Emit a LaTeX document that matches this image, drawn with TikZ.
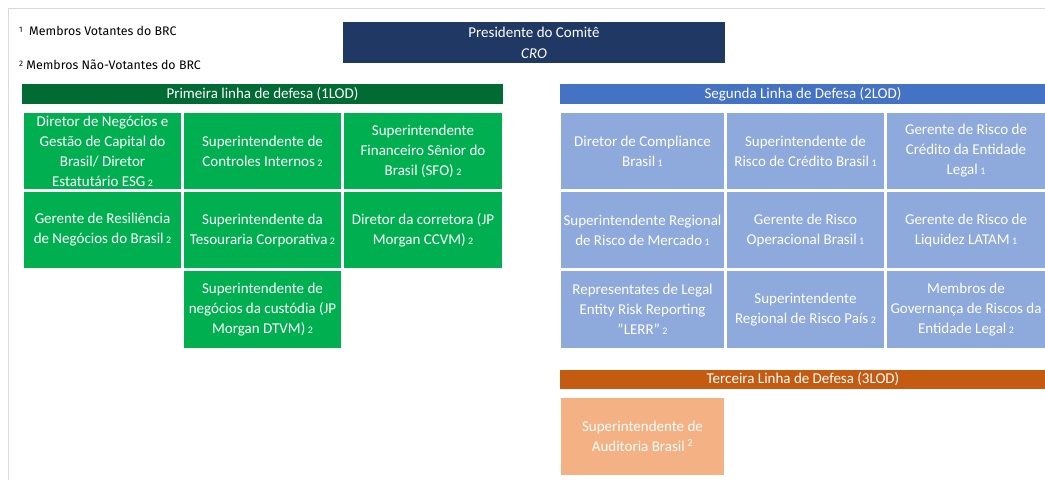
\documentclass[tikz,border=0pt]{standalone}
\usepackage{fontspec}
\setmainfont{Carlito}
\newfontfamily\footfont{Fira Sans}
\definecolor{navy}{HTML}{203864}
\definecolor{dgreen}{HTML}{006B33}
\definecolor{lgreen}{HTML}{00B050}
\definecolor{dblue}{HTML}{4472C4}
\definecolor{lblue}{HTML}{8EA9DB}
\definecolor{dorange}{HTML}{C55A11}
\definecolor{lorange}{HTML}{F4B183}
\definecolor{frame}{HTML}{D9D9D9}
\newcommand{\smnum}[1]{\,{\fontsize{10}{10}\selectfont #1}}
\begin{document}
\begin{tikzpicture}[x=1pt,y=-1pt,
  cell/.style={inner sep=0pt,minimum height=76pt,align=center,text=white,
    font=\fontsize{15}{20}\selectfont},
  gcell/.style={cell,fill=lgreen,minimum width=157pt},
  bcell/.style={cell,fill=lblue,minimum width=157pt},
  ocell/.style={cell,fill=lorange,minimum width=163pt,minimum height=77pt},
  bar/.style={inner sep=0pt,minimum height=20pt,text=white,font=\fontsize{15}{16}\selectfont},
  foot/.style={inner sep=0pt,anchor=west,font=\footfont\fontsize{12.4}{14}\selectfont}]
\useasboundingbox (0,0) rectangle (1045,480);
\fill[white] (0,0) rectangle (1045,480);
\draw[frame,line width=1pt] (8,480) -- (8,8) -- (1045,8);
% footnotes
\node[foot] (f1) at (19,31) {{\fontsize{8}{8}\selectfont\raisebox{3pt}{1}}\ \ Membros Votantes do BRC};
\node[foot] (f2) at (19,65) {{\fontsize{8}{8}\selectfont\raisebox{3pt}{2}} Membros Não-Votantes do BRC};
% president
\node[fill=navy,minimum width=382pt,minimum height=41pt,inner sep=0pt,text=white,align=center,
  font=\fontsize{15}{21}\selectfont] (pres) at (534,42.5) {Presidente do Comitê\\\textit{CRO}};
% 1LOD
\node[bar,fill=dgreen,minimum width=481pt] (h1) at (262.5,94) {Primeira linha de defesa (1LOD)};
\node[gcell] (g11) at (102.5,151) {Diretor de Negócios e\\Gestão de Capital do\\Brasil/ Diretor\\Estatutário ESG\smnum{2}};
\node[gcell] (g12) at (262.5,151) {Superintendente de\\Controles Internos\smnum{2}};
\node[gcell,minimum width=158pt] (g13) at (423,151) {Superintendente\\Financeiro Sênior do\\Brasil (SFO)\smnum{2}};
\node[gcell] (g21) at (102.5,230) {Gerente de Resiliência\\de Negócios do Brasil\smnum{2}};
\node[gcell] (g22) at (262.5,230) {Superintendente da\\Tesouraria Corporativa\smnum{2}};
\node[gcell,minimum width=158pt] (g23) at (423,230) {Diretor da corretora (JP\\Morgan CCVM)\smnum{2}};
\node[gcell,minimum height=77pt] (g32) at (262.5,309.5) {Superintendente de\\negócios da custódia (JP\\Morgan DTVM)\smnum{2}};
% 2LOD
\node[bar,fill=dblue,minimum width=486pt] (h2) at (803,94) {Segunda Linha de Defesa (2LOD)};
\node[bcell,minimum width=163pt] (b11) at (642.5,151) {Diretor de Compliance\\Brasil\smnum{1}};
\node[bcell] (b12) at (805.5,151) {Superintendente de\\Risco de Crédito Brasil\smnum{1}};
\node[bcell,minimum width=158pt] (b13) at (966,151) {Gerente de Risco de\\Crédito da Entidade\\Legal\smnum{1}};
\node[bcell,minimum width=163pt] (b21) at (642.5,230) {Superintendente Regional\\de Risco de Mercado\smnum{1}};
\node[bcell] (b22) at (805.5,230) {Gerente de Risco\\Operacional Brasil\smnum{1}};
\node[bcell,minimum width=158pt] (b23) at (966,230) {Gerente de Risco de\\Liquidez LATAM\smnum{1}};
\node[bcell,minimum width=163pt,minimum height=77pt] (b31) at (642.5,309.5) {Representates de Legal\\Entity Risk Reporting\\"LERR"\smnum{2}};
\node[bcell,minimum height=77pt] (b32) at (805.5,309.5) {Superintendente\\Regional de Risco País\smnum{2}};
\node[bcell,minimum width=158pt,minimum height=77pt] (b33) at (966,309.5) {Membros de\\Governança de Riscos da\\Entidade Legal\smnum{2}};
% 3LOD
\node[bar,fill=dorange,minimum width=486pt,minimum height=19pt] (h3) at (803,379.5) {Terceira Linha de Defesa (3LOD)};
\node[ocell] (o1) at (642.5,436.5) {Superintendente de\\Auditoria Brasil\,\textsuperscript{2}};
\end{tikzpicture}
\end{document}
